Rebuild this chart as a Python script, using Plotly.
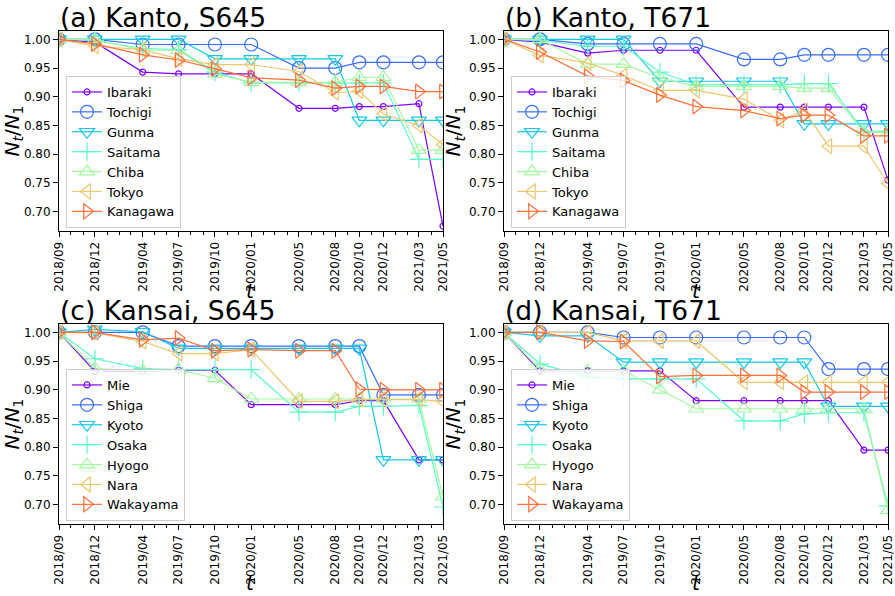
import plotly.graph_objects as go

dates = ["2018/09", "2018/12", "2019/04", "2019/07", "2019/10", "2020/01",
         "2020/05", "2020/08", "2020/10", "2020/12", "2021/03", "2021/05"]

kanto = ["Ibaraki", "Tochigi", "Gunma", "Saitama", "Chiba", "Tokyo", "Kanagawa"]
kansai = ["Mie", "Shiga", "Kyoto", "Osaka", "Hyogo", "Nara", "Wakayama"]

# (a) Kanto, S645
a_ibaraki = [1.000, 0.995, 0.943, 0.940, 0.940, 0.940, 0.880, 0.880, 0.883, 0.883, 0.888, 0.675]
a_tochigi = [1.000, 1.000, 0.991, 0.991, 0.991, 0.991, 0.950, 0.950, 0.960, 0.960, 0.960, 0.960]
a_gunma = [1.000, 1.000, 1.000, 1.000, 0.966, 0.966, 0.966, 0.966, 0.859, 0.859, 0.859, 0.859]
a_saitama = [1.000, 0.998, 0.984, 0.982, 0.943, 0.924, 0.924, 0.924, 0.924, 0.924, 0.791, 0.791]
a_chiba = [1.000, 1.000, 0.981, 0.981, 0.940, 0.925, 0.925, 0.925, 0.934, 0.934, 0.807, 0.807]
a_tokyo = [1.000, 0.988, 0.982, 0.966, 0.956, 0.956, 0.944, 0.907, 0.910, 0.870, 0.850, 0.817]
a_kanagawa = [1.000, 0.992, 0.973, 0.964, 0.949, 0.933, 0.929, 0.915, 0.918, 0.918, 0.909, 0.909]

# (b) Kanto, T671
b_ibaraki = [1.000, 0.995, 0.976, 0.981, 0.981, 0.981, 0.882, 0.882, 0.882, 0.882, 0.882, 0.755]
b_tochigi = [1.000, 1.000, 0.992, 0.992, 0.992, 0.992, 0.965, 0.965, 0.973, 0.973, 0.973, 0.973]
b_gunma = [1.000, 1.000, 1.000, 1.000, 0.927, 0.927, 0.927, 0.927, 0.853, 0.853, 0.853, 0.853]
b_saitama = [1.000, 0.998, 0.988, 0.988, 0.943, 0.921, 0.921, 0.921, 0.923, 0.923, 0.840, 0.840]
b_chiba = [1.000, 1.000, 0.957, 0.957, 0.933, 0.918, 0.918, 0.918, 0.915, 0.915, 0.838, 0.838]
b_tokyo = [1.000, 0.972, 0.959, 0.937, 0.911, 0.911, 0.896, 0.859, 0.876, 0.814, 0.814, 0.749]
b_kanagawa = [1.000, 0.978, 0.936, 0.928, 0.903, 0.883, 0.876, 0.862, 0.868, 0.868, 0.832, 0.832]

# (c) Kansai, S645
c_mie = [1.000, 0.932, 0.932, 0.934, 0.934, 0.874, 0.874, 0.874, 0.881, 0.881, 0.778, 0.778]
c_shiga = [1.000, 1.000, 1.000, 0.976, 0.976, 0.976, 0.976, 0.976, 0.976, 0.891, 0.891, 0.891]
c_kyoto = [1.000, 1.005, 1.001, 0.972, 0.972, 0.972, 0.972, 0.972, 0.972, 0.778, 0.778, 0.778]
c_osaka = [1.000, 0.954, 0.937, 0.935, 0.935, 0.935, 0.861, 0.861, 0.871, 0.871, 0.873, 0.696]
c_hyogo = [1.000, 0.937, 0.933, 0.935, 0.920, 0.884, 0.884, 0.884, 0.884, 0.884, 0.884, 0.714]
c_nara = [1.000, 0.999, 0.984, 0.963, 0.963, 0.970, 0.880, 0.880, 0.883, 0.883, 0.883, 0.880]
c_wakayama = [1.000, 1.000, 0.987, 0.990, 0.968, 0.970, 0.968, 0.968, 0.901, 0.900, 0.900, 0.900]

# (d) Kansai, T671
d_mie = [1.000, 0.933, 0.933, 0.933, 0.933, 0.881, 0.881, 0.881, 0.881, 0.881, 0.795, 0.795]
d_shiga = [1.000, 1.000, 1.000, 0.991, 0.991, 0.991, 0.991, 0.991, 0.991, 0.936, 0.936, 0.936]
d_kyoto = [1.000, 0.994, 0.994, 0.948, 0.948, 0.948, 0.948, 0.948, 0.948, 0.871, 0.871, 0.871]
d_osaka = [1.000, 0.945, 0.922, 0.919, 0.919, 0.919, 0.846, 0.846, 0.858, 0.860, 0.860, 0.698]
d_hyogo = [1.000, 0.936, 0.933, 0.933, 0.900, 0.867, 0.867, 0.867, 0.867, 0.867, 0.867, 0.690]
d_nara = [1.000, 1.000, 1.000, 0.985, 0.985, 0.985, 0.913, 0.913, 0.913, 0.913, 0.913, 0.913]
d_wakayama = [1.000, 1.000, 0.985, 0.984, 0.923, 0.925, 0.925, 0.925, 0.896, 0.896, 0.896, 0.896]

panels = [
    ("(a) Kanto, S645", kanto, [a_ibaraki, a_tochigi, a_gunma, a_saitama, a_chiba, a_tokyo, a_kanagawa]),
    ("(b) Kanto, T671", kanto, [b_ibaraki, b_tochigi, b_gunma, b_saitama, b_chiba, b_tokyo, b_kanagawa]),
    ("(c) Kansai, S645", kansai, [c_mie, c_shiga, c_kyoto, c_osaka, c_hyogo, c_nara, c_wakayama]),
    ("(d) Kansai, T671", kansai, [d_mie, d_shiga, d_kyoto, d_osaka, d_hyogo, d_nara, d_wakayama]),
]

colors = ["#8000ff", "#376ff9", "#12c8e6", "#5bf9c8", "#a4f99f", "#edc76f", "#ff6f39"]
symbols = ["circle-open", "circle-open", "triangle-down-open", "cross-thin-open",
           "triangle-up-open", "triangle-left-open", "triangle-right-open"]
sizes = [6, 13, 13, 13, 13, 13, 13]

xvals = [d.replace("/", "-") + "-01" for d in dates]

W, H = 895, 596
# pixel boxes (left, right, top, bottom)
boxes = [(59, 443, 31, 231), (504, 888, 31, 231), (59, 443, 324, 524), (504, 888, 324, 524)]
# x-label placement: (paper y, anchor)
xlabel_pos = [(1 - 291 / H, "middle"), (1 - 291 / H, "middle"), (0.0, "bottom"), (0.0, "bottom")]

fig = go.Figure()
font = "DejaVu Sans"
annotations = []
for i, (title, names, series) in enumerate(panels):
    k = i + 1
    xa = "x" if k == 1 else f"x{k}"
    ya = "y" if k == 1 else f"y{k}"
    lg = "legend" if k == 1 else f"legend{k}"
    for j, (nm, vals) in enumerate(zip(names, series)):
        fig.add_trace(go.Scatter(
            x=xvals, y=vals, name=nm, mode="lines+markers",
            xaxis=xa, yaxis=ya, legend=lg,
            line=dict(color=colors[j], width=1.2),
            marker=dict(symbol=symbols[j], size=sizes[j], color=colors[j],
                        line=dict(color=colors[j], width=1.2)),
        ))
    l, r, t, b = boxes[i]
    xd = [l / W, r / W]
    yd = [1 - b / H, 1 - t / H]
    axis_common = dict(showline=True, linecolor="black", linewidth=1, mirror=True,
                       showgrid=False, zeroline=False, automargin=False,
                       tickfont=dict(family=font, size=12, color="black"),
                       ticks="outside", tickcolor="black", ticklen=5, tickwidth=1)
    fig.layout[("xaxis" if k == 1 else f"xaxis{k}")] = dict(
        axis_common, domain=xd, anchor=ya, type="date",
        range=[xvals[0], xvals[-1]], tickmode="array", tickvals=xvals, ticktext=dates,
        tickangle=-90,
        minor=dict(ticks="outside", ticklen=3, tickcolor="black", dtick="M1", tick0=xvals[0]),
    )
    fig.layout[("yaxis" if k == 1 else f"yaxis{k}")] = dict(
        axis_common, domain=yd, anchor=xa, range=[0.6664, 1.0145],
        tickmode="array", tickvals=[0.70, 0.75, 0.80, 0.85, 0.90, 0.95, 1.00], tickformat=".2f",
        title=dict(text="<i>N</i><sub><i>t</i></sub>/<i>N</i><sub>1</sub>",
                   font=dict(family=font, size=20, color="black"), standoff=2),
    )
    annotations.append(dict(text=title, x=l / W, y=1 - t / H, xref="paper", yref="paper",
                            xanchor="left", yanchor="bottom", showarrow=False, yshift=-3,
                            borderpad=0,
                            font=dict(family=font, size=26.5, color="black")))
    yv, ya_anchor = xlabel_pos[i]
    annotations.append(dict(text="<i>t</i>", x=(l + r) / 2 / W, y=yv,
                            xref="paper", yref="paper", xanchor="center", yanchor=ya_anchor,
                            showarrow=False, borderpad=0,
                            font=dict(family=font, size=20, color="black")))
    fig.layout[lg] = dict(x=(l + 7) / W, y=1 - (b - 3) / H, xanchor="left", yanchor="bottom",
                          bgcolor="rgba(255,255,255,0.8)", bordercolor="#cccccc", borderwidth=1,
                          font=dict(family=font, size=13, color="black"), tracegroupgap=0)

fig.update_layout(width=W, height=H, margin=dict(l=0, r=0, t=0, b=0),
                  paper_bgcolor="white", plot_bgcolor="white", showlegend=True,
                  annotations=annotations)
fig.write_html("out.html", config={"displayModeBar": False},
               post_script="document.body.style.margin='0px';document.body.style.overflow='hidden';")
